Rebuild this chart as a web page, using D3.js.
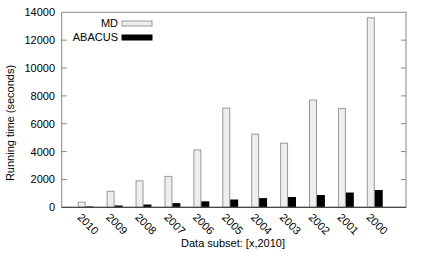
<!DOCTYPE html>
<html>
<head>
<meta charset="utf-8">
<script src="https://cdn.jsdelivr.net/npm/d3@7"></script>
<style>
  body { margin: 0; background: #fff; }
  text { font-family: "Liberation Sans", Arial, sans-serif; fill: #000; }
</style>
</head>
<body>
<svg width="424" height="254"></svg>
<script>
// running time per data subset [x,2010]
const years = ["2010", "2009", "2008", "2007", "2006", "2005", "2004", "2003", "2002", "2001", "2000"];
const mdTimes = [370, 1150, 1900, 2220, 4120, 7120, 5250, 4600, 7700, 7100, 13600];
const abacusTimes = [60, 130, 200, 300, 430, 560, 660, 740, 880, 1060, 1240];
const yTicks = [0, 2000, 4000, 6000, 8000, 10000, 12000, 14000];
const seriesNames = ["MD", "ABACUS"];

var svg = d3.select("svg");

// plot frame (note: "top" is reserved on window, so use plotTop etc)
var plotLeft = 61.7, plotRight = 406, plotTop = 12.3, plotBottom = 207.3;

// group index -> x
var x = d3.scaleLinear().domain([-0.83, 11.08]).range([plotLeft, plotRight]);
var y = d3.scaleLinear().domain([0, 14000]).range([plotBottom, plotTop]);

var bw = 0.275; // bar width in group units

// bars
var g = svg.append("g");
g.selectAll(".md")
  .data(mdTimes)
  .enter().append("rect")
    .attr("x", (d, i) => x(i - bw) + 0.5)
    .attr("width", x(bw) - x(0) - 1)
    .attr("y", d => y(d))
    .attr("height", d => y(0) - y(d))
    .style("fill", "#eeeeee")
    .style("stroke", "#999")
    .style("stroke-width", 1);

g.selectAll(".ab")
  .data(abacusTimes)
  .enter().append("rect")
    .attr("x", (d, i) => x(i))
    .attr("width", x(bw) - x(0))
    .attr("y", d => y(d))
    .attr("height", d => y(0) - y(d))
    .style("fill", "#000");

// frame
svg.append("rect")
  .attr("x", plotLeft).attr("y", plotTop)
  .attr("width", plotRight - plotLeft).attr("height", plotBottom - plotTop)
  .style("fill", "none")
  .style("stroke", "#888")
  .style("stroke-width", 1);
svg.append("line")
  .attr("x1", plotLeft).attr("x2", plotRight)
  .attr("y1", plotBottom).attr("y2", plotBottom)
  .style("stroke", "#333");

// y ticks (left labels + inward ticks both sides)
yTicks.forEach(function(t) {
  if (t > 0 && t < 14000) {
    svg.append("line").attr("x1", plotLeft).attr("x2", plotLeft + 5)
      .attr("y1", y(t)).attr("y2", y(t)).style("stroke", "#888");
    svg.append("line").attr("x1", plotRight).attr("x2", plotRight - 5)
      .attr("y1", y(t)).attr("y2", y(t)).style("stroke", "#888");
  }
  svg.append("text")
    .attr("x", 55).attr("y", y(t) + 4)
    .attr("text-anchor", "end")
    .style("font-size", "11px")
    .text(t);
});

// x tick labels rotated
years.forEach(function(yr, i) {
  var px = x(i) - 9, py = 218;
  svg.append("text")
    .attr("transform", "translate(" + px + "," + py + ") rotate(45)")
    .style("font-size", "11px")
    .text(yr);
});

// axis titles
svg.append("text")
  .attr("transform", "translate(14,123) rotate(-90)")
  .attr("text-anchor", "middle")
  .style("font-size", "11px")
  .text("Running time (seconds)");

svg.append("text")
  .attr("x", 233).attr("y", 247)
  .attr("text-anchor", "middle")
  .style("font-size", "11px")
  .text("Data subset: [x,2010]");

// legend
var legend = svg.append("g");
seriesNames.forEach(function(name, i) {
  var ly = 26 + i * 14;
  legend.append("text")
    .attr("x", 118).attr("y", ly + 1)
    .attr("text-anchor", "end")
    .style("font-size", "11px")
    .text(name);
  legend.append("rect")
    .attr("x", 122).attr("y", ly - 5)
    .attr("width", 30).attr("height", 5)
    .style("fill", i == 0 ? "#eeeeee" : "#000")
    .style("stroke", i == 0 ? "#999" : "#000")
    .style("stroke-width", 1);
});
</script>
</body>
</html>
